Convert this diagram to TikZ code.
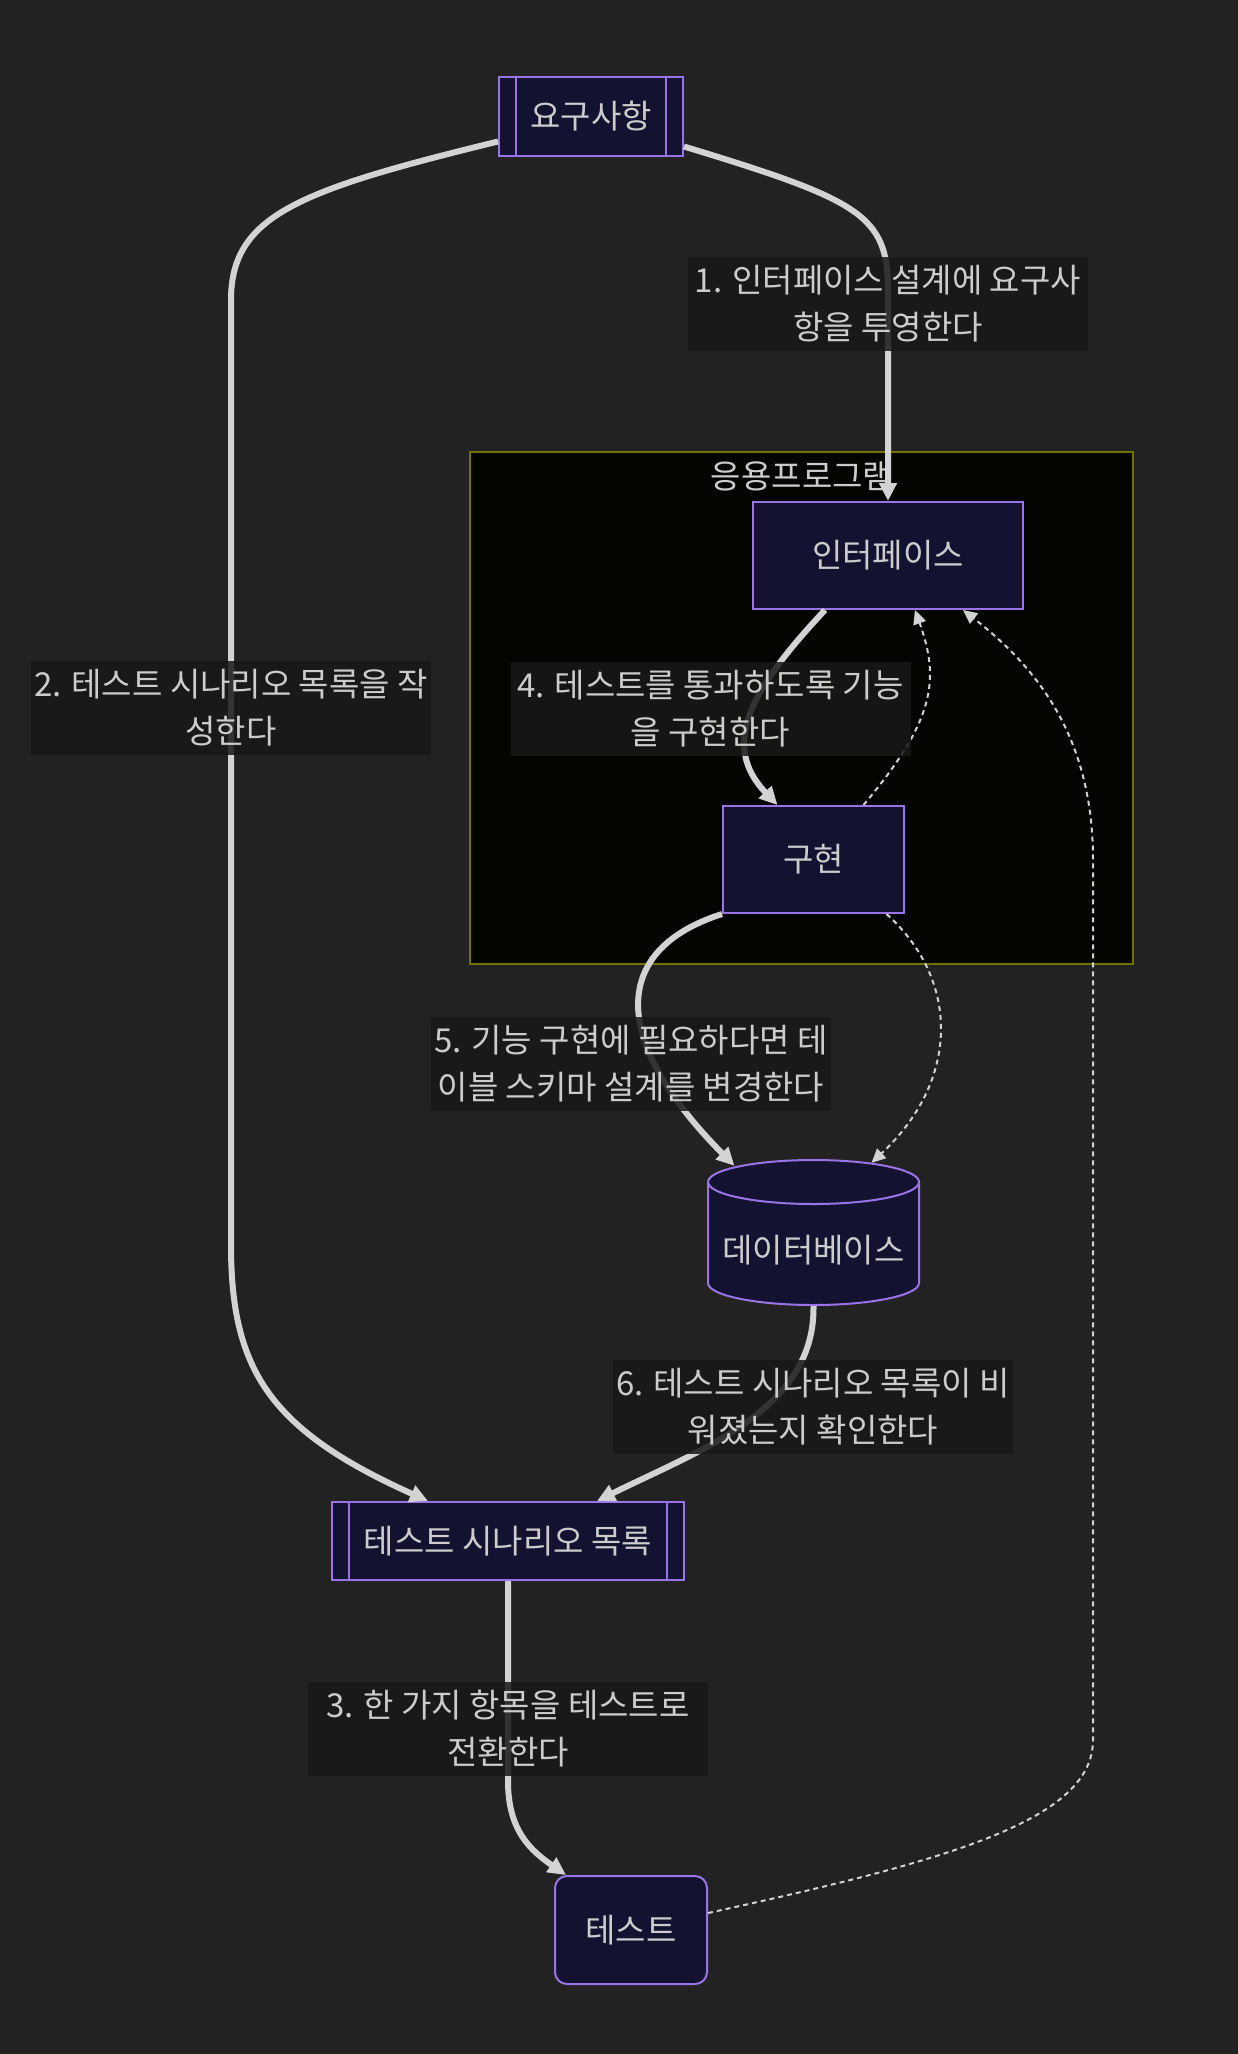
\documentclass[tikz,border=0pt]{standalone}
\usepackage{fontspec}
\setmainfont{Noto Sans CJK KR}
\usepackage{tikz}
\usetikzlibrary{arrows.meta}
\definecolor{bgc}{HTML}{222222}
\definecolor{clfill}{HTML}{040500}
\definecolor{clline}{HTML}{737300}
\definecolor{nfill}{HTML}{131331}
\definecolor{nline}{HTML}{9A73E6}
\definecolor{txt}{HTML}{CCCCCC}
\definecolor{edge}{HTML}{D3D3D3}
\definecolor{lblbg}{HTML}{181818}
\newcommand{\nfont}{\fontsize{33}{47}\selectfont}
\tikzset{
  nbox/.style={draw=nline, line width=2pt, fill=nfill, text=txt, font=\nfont, inner sep=0pt},
  subr/.style={nbox, path picture={
      \draw[nline, line width=2pt]
        ([xshift=17pt]path picture bounding box.north west) -- ([xshift=17pt]path picture bounding box.south west)
        ([xshift=-17pt]path picture bounding box.north east) -- ([xshift=-17pt]path picture bounding box.south east);}},
  dbbox/.style={fill=bgc, text=txt, font=\nfont, inner sep=0pt, path picture={
      \filldraw[fill=nfill, draw=nline, line width=2pt]
        ([xshift=1pt,yshift=-23pt]path picture bounding box.north west)
          arc[start angle=180, end angle=0, x radius=105.5pt, y radius=22pt]
        -- ([xshift=-1pt,yshift=23pt]path picture bounding box.south east)
          arc[start angle=0, end angle=-180, x radius=105.5pt, y radius=22pt] -- cycle;
      \draw[nline, line width=2pt] ([xshift=1pt,yshift=-23pt]path picture bounding box.north west)
          arc[start angle=180, end angle=360, x radius=105.5pt, y radius=22pt];}},
  clbox/.style={draw=clline, line width=1.5pt, fill=clfill, inner sep=0pt},
  lbl/.style={fill=lblbg, fill opacity=0.85, text opacity=1, text=txt, align=center, font=\nfont,
              minimum width=400pt, minimum height=94pt, inner sep=0pt},
  flow/.style={-{Triangle[length=18pt,width=17pt]}, line width=6pt, draw=edge},
  dflow/.style={-{Triangle[length=14pt,width=13pt]}, line width=2pt, draw=edge, dash pattern=on 5pt off 4pt},
}
\begin{document}
\begin{tikzpicture}[x=1pt, y=-1pt]
  \path[use as bounding box, fill=bgc] (0,0) rectangle (1238,2054);
  \node[clbox, minimum width=663pt, minimum height=512pt] (app) at (801.5,708) {};
  \node[text=txt, font=\nfont, inner sep=0pt] (appt) at (802,476) {응용프로그램};

  \node[subr, minimum width=184pt, minimum height=79pt] (req) at (591,116.5) {요구사항};
  \node[nbox, minimum width=270pt, minimum height=107pt] (iface) at (888,555.5) {인터페이스};
  \node[nbox, minimum width=181pt, minimum height=107pt] (impl) at (813.5,859.5) {구현};
  \node[dbbox, minimum width=213pt, minimum height=147pt] (db) at (813.5,1232.5)
    {\raisebox{-18pt}[\height][\depth]{데이터베이스}};
  \node[subr, minimum width=352pt, minimum height=78pt] (list) at (508,1541) {테스트 시나리오 목록};
  \node[nbox, rounded corners=12pt, minimum width=152pt, minimum height=108pt] (test) at (631,1930) {테스트};

  \draw[flow] ([yshift=-30pt]req.east) .. controls (860,200) and (888,215) .. (888,290) -- (iface.north);
  \draw[flow] ([yshift=-25pt]req.west) .. controls (300,190) and (231,215) .. (231,300) -- (231,1245)
    .. controls (231,1370) and (270,1430) .. ([xshift=-80pt]list.north);
  \draw[flow] (list.south) -- (508,1781) .. controls (508,1830) and (530,1850) .. ([xshift=12pt]test.north west);
  \draw[flow] ([xshift=-63pt]iface.south) .. controls (750,690) and (720,745) .. ([xshift=-36pt]impl.north);
  \draw[flow] (impl.south west) .. controls (610,950) and (610,1040) .. ([xshift=-79pt,yshift=-7pt]db.north);
  \draw[flow] (db.south) .. controls (815,1410) and (700,1450) .. ([xshift=89pt]list.north);
  \draw[dflow] ([xshift=50pt]impl.north) .. controls (935,720) and (940,680) .. ([xshift=27pt]iface.south);
  \draw[dflow] ([xshift=73pt]impl.south) .. controls (960,980) and (960,1080) .. ([xshift=58pt,yshift=-4pt]db.north);
  \draw[dflow] ([yshift=17pt]test.east) .. controls (950,1860) and (1093,1820) .. (1093,1740) -- (1093,860)
    .. controls (1093,740) and (1040,670) .. ([xshift=75pt]iface.south);

  \node[lbl] (l1) at (888,304) {1. 인터페이스 설계에 요구사\\항을 투영한다};
  \node[lbl] (l2) at (231,708) {2. 테스트 시나리오 목록을 작\\성한다};
  \node[lbl] (l3) at (508,1728.5) {3. 한 가지 항목을 테스트로\\전환한다};
  \node[lbl] (l4) at (710.5,709) {4. 테스트를 통과하도록 기능\\을 구현한다};
  \node[lbl] (l5) at (631,1063.5) {5. 기능 구현에 필요하다면 테\\이블 스키마 설계를 변경한다};
  \node[lbl] (l6) at (813,1407) {6. 테스트 시나리오 목록이 비\\워졌는지 확인한다};
\end{tikzpicture}
\end{document}
